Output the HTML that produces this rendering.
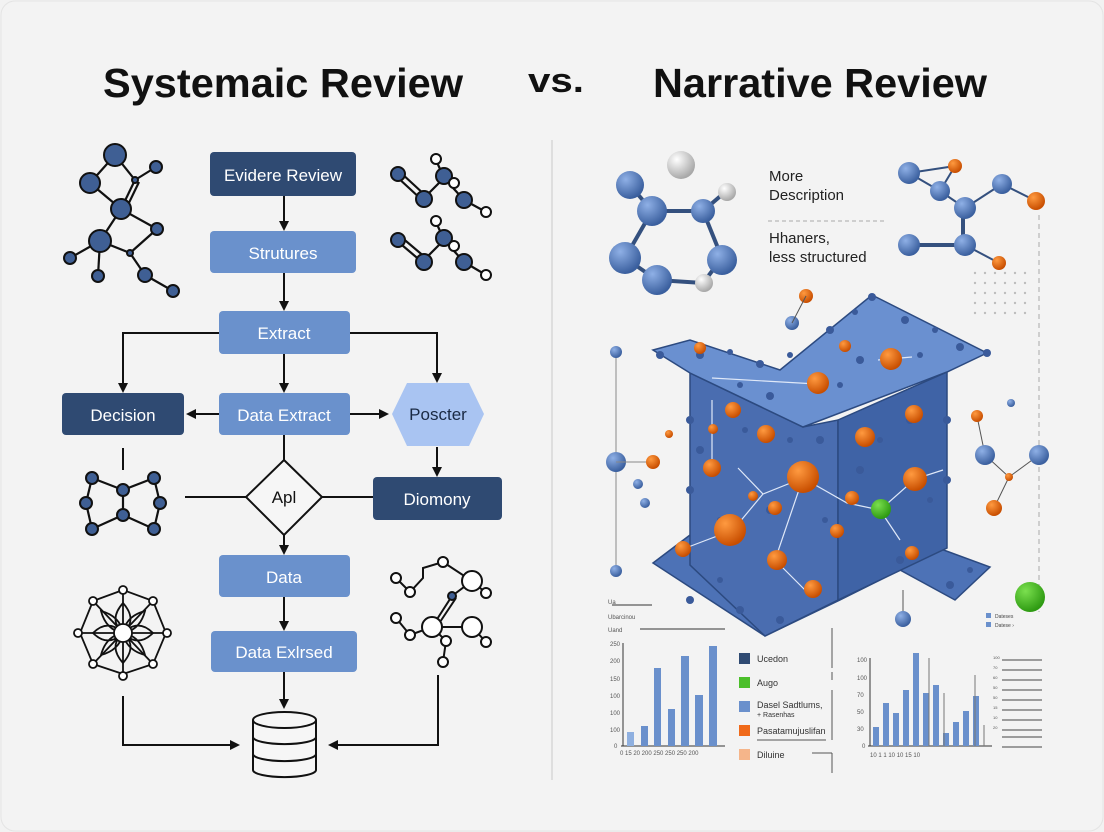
<!DOCTYPE html>
<html><head><meta charset="utf-8"><style>
html,body{margin:0;padding:0;background:#f2f2f2;}
svg{display:block;font-family:"Liberation Sans",sans-serif;}
</style></head><body>
<svg width="1104" height="832" viewBox="0 0 1104 832" xmlns="http://www.w3.org/2000/svg">
<defs>
<marker id="ar" markerWidth="10" markerHeight="10" refX="8" refY="5" orient="auto" markerUnits="userSpaceOnUse"><path d="M0,0 L10,5 L0,10 Z" fill="#111"/></marker>
<radialGradient id="bb" cx="35%" cy="30%" r="70%"><stop offset="0" stop-color="#8fb0e6"/><stop offset="1" stop-color="#3a5f9e"/></radialGradient>
<radialGradient id="ob" cx="35%" cy="30%" r="70%"><stop offset="0" stop-color="#ff9a40"/><stop offset="1" stop-color="#c84e00"/></radialGradient>
<radialGradient id="wb" cx="35%" cy="30%" r="70%"><stop offset="0" stop-color="#ffffff"/><stop offset="1" stop-color="#a8a8a8"/></radialGradient>
<radialGradient id="gb" cx="35%" cy="30%" r="70%"><stop offset="0" stop-color="#7be04f"/><stop offset="1" stop-color="#2e9a12"/></radialGradient>
</defs>
<rect x="0" y="0" width="1104" height="832" fill="#f2f2f2"/>
<rect x="1" y="1" width="1102" height="830" rx="14" fill="#f3f3f3" stroke="#e4e4e4"/>

<!-- Titles -->
<text x="103" y="97" font-size="41" font-weight="bold" fill="#111" textLength="360" lengthAdjust="spacingAndGlyphs">Systemaic Review</text>
<text x="528" y="92" font-size="34" font-weight="bold" fill="#111" textLength="56" lengthAdjust="spacingAndGlyphs">vs.</text>
<text x="653" y="97" font-size="41" font-weight="bold" fill="#111" textLength="334" lengthAdjust="spacingAndGlyphs">Narrative Review</text>
<line x1="552" y1="140" x2="552" y2="780" stroke="#d8d8d8" stroke-width="1.5"/>

<!-- Flowchart connectors -->
<g stroke="#111" stroke-width="2" fill="none">
<line x1="284" y1="196" x2="284" y2="229" marker-end="url(#ar)"/>
<line x1="284" y1="273" x2="284" y2="309" marker-end="url(#ar)"/>
<line x1="284" y1="354" x2="284" y2="391" marker-end="url(#ar)"/>
<polyline points="219,333 123,333 123,391" marker-end="url(#ar)"/>
<polyline points="350,333 437,333 437,381" marker-end="url(#ar)"/>
<line x1="219" y1="414" x2="188" y2="414" marker-end="url(#ar)"/>
<line x1="350" y1="414" x2="387" y2="414" marker-end="url(#ar)"/>
<line x1="284" y1="435" x2="284" y2="460"/>
<line x1="437" y1="447" x2="437" y2="475" marker-end="url(#ar)"/>
<line x1="123" y1="448" x2="123" y2="470"/>
<line x1="185" y1="497" x2="246" y2="497"/>
<line x1="322" y1="497" x2="373" y2="497"/>
<line x1="284" y1="535" x2="284" y2="553" marker-end="url(#ar)"/>
<line x1="284" y1="597" x2="284" y2="629" marker-end="url(#ar)"/>
<line x1="284" y1="672" x2="284" y2="707" marker-end="url(#ar)"/>
<polyline points="123,696 123,745 238,745" marker-end="url(#ar)"/>
<polyline points="438,675 438,745 330,745" marker-end="url(#ar)"/>
</g>

<!-- Flowchart nodes -->
<rect x="210" y="152" width="146" height="44" rx="4" fill="#2f4a72"/>
<text x="283" y="181" font-size="17" fill="#fff" text-anchor="middle">Evidere Review</text>
<rect x="210" y="231" width="146" height="42" rx="4" fill="#6a91cc"/>
<text x="283" y="259" font-size="17" fill="#fff" text-anchor="middle">Strutures</text>
<rect x="219" y="311" width="131" height="43" rx="4" fill="#6a91cc"/>
<text x="284" y="339" font-size="17" fill="#fff" text-anchor="middle">Extract</text>
<rect x="62" y="393" width="122" height="42" rx="4" fill="#2f4a72"/>
<text x="123" y="421" font-size="17" fill="#fff" text-anchor="middle">Decision</text>
<rect x="219" y="393" width="131" height="42" rx="4" fill="#6a91cc"/>
<text x="284" y="421" font-size="17" fill="#fff" text-anchor="middle">Data Extract</text>
<polygon points="392,414 407,383 469,383 484,414 469,446 407,446" fill="#a9c4f2"/>
<text x="438" y="420" font-size="17" fill="#1a2a44" text-anchor="middle">Poscter</text>
<polygon points="284,460 322,497 284,535 246,497" fill="#f6f6f6" stroke="#111" stroke-width="2"/>
<text x="284" y="503" font-size="17" fill="#111" text-anchor="middle">Apl</text>
<rect x="373" y="477" width="129" height="43" rx="4" fill="#2f4a72"/>
<text x="437" y="505" font-size="17" fill="#fff" text-anchor="middle">Diomony</text>
<rect x="219" y="555" width="131" height="42" rx="4" fill="#6a91cc"/>
<text x="284" y="583" font-size="17" fill="#fff" text-anchor="middle">Data</text>
<rect x="211" y="631" width="146" height="41" rx="4" fill="#6a91cc"/>
<text x="284" y="658" font-size="17" fill="#fff" text-anchor="middle">Data Exlrsed</text>
<!-- database -->
<g stroke="#111" stroke-width="2" fill="#f6f6f6">
<path d="M253,720 L253,770 A31,7 0 0 0 316,770 L316,720"/>
<ellipse cx="284.5" cy="720" rx="31.5" ry="8"/>
<path d="M253,737 A31,7 0 0 0 316,737" fill="none"/>
<path d="M253,754 A31,7 0 0 0 316,754" fill="none"/>
</g>

<!-- Molecule top-left -->
<g stroke="#111" stroke-width="2.2">
<line x1="115" y1="155" x2="90" y2="183"/><line x1="115" y1="155" x2="135" y2="180"/>
<line x1="135" y1="180" x2="156" y2="167"/><line x1="135" y1="180" x2="121" y2="209"/><line x1="139" y1="182" x2="125" y2="211"/>
<line x1="90" y1="183" x2="121" y2="209"/><line x1="121" y1="209" x2="157" y2="229"/>
<line x1="121" y1="209" x2="100" y2="241"/><line x1="100" y1="241" x2="130" y2="253"/>
<line x1="157" y1="229" x2="130" y2="253"/><line x1="100" y1="241" x2="70" y2="258"/>
<line x1="100" y1="241" x2="98" y2="276"/><line x1="130" y1="253" x2="145" y2="275"/><line x1="145" y1="275" x2="173" y2="291"/>
</g>
<g fill="#3f5f94" stroke="#111" stroke-width="2">
<circle cx="115" cy="155" r="11"/><circle cx="90" cy="183" r="10"/><circle cx="135" cy="180" r="3"/><circle cx="156" cy="167" r="6"/>
<circle cx="121" cy="209" r="10"/><circle cx="157" cy="229" r="6"/><circle cx="100" cy="241" r="11"/><circle cx="130" cy="253" r="3"/>
<circle cx="70" cy="258" r="6"/><circle cx="98" cy="276" r="6"/><circle cx="145" cy="275" r="7"/><circle cx="173" cy="291" r="6"/>
</g>

<!-- Molecules top-right (two) -->
<g stroke="#111" stroke-width="2.2" fill="none">
<path d="M396,176 L422,200 M400,172 L426,196 M422,200 L444,178 L464,200 L486,212 M444,178 L454,183 M444,178 L436,160"/>
<path d="M396,240 L422,262 M400,236 L426,258 M422,262 L444,240 L464,262 L486,275 M444,240 L454,246 M444,240 L436,222"/>
</g>
<g stroke="#111" stroke-width="2">
<circle cx="398" cy="174" r="7" fill="#3f5f94"/><circle cx="424" cy="199" r="8" fill="#3f5f94"/><circle cx="444" cy="176" r="8" fill="#3f5f94"/><circle cx="464" cy="200" r="8" fill="#3f5f94"/>
<circle cx="436" cy="159" r="5" fill="#fff"/><circle cx="454" cy="183" r="5" fill="#fff"/><circle cx="486" cy="212" r="5" fill="#fff"/>
<circle cx="398" cy="240" r="7" fill="#3f5f94"/><circle cx="424" cy="262" r="8" fill="#3f5f94"/><circle cx="444" cy="238" r="8" fill="#3f5f94"/><circle cx="464" cy="262" r="8" fill="#3f5f94"/>
<circle cx="436" cy="221" r="5" fill="#fff"/><circle cx="454" cy="246" r="5" fill="#fff"/><circle cx="486" cy="275" r="5" fill="#fff"/>
</g>

<!-- Molecule mid-left -->
<g stroke="#111" stroke-width="2.2" fill="none">
<path d="M92,478 L123,490 L154,478 M92,478 L86,503 L92,529 L123,515 L154,529 L160,503 L154,478 M123,490 L123,515"/>
</g>
<g fill="#3f5f94" stroke="#111" stroke-width="2">
<circle cx="92" cy="478" r="6"/><circle cx="123" cy="490" r="6"/><circle cx="154" cy="478" r="6"/><circle cx="86" cy="503" r="6"/><circle cx="160" cy="503" r="6"/><circle cx="92" cy="529" r="6"/><circle cx="123" cy="515" r="6"/><circle cx="154" cy="529" r="6"/>
</g>

<!-- Flower bottom-left -->
<g stroke="#111" stroke-width="1.8" fill="none">
<path d="M123,590 L123,674 M80,633 L166,633 M93,601 L153,664 M153,601 L93,664"/>
<path d="M123,603 Q108,620 123,633 Q138,620 123,603 Z M123,663 Q108,646 123,633 Q138,646 123,663 Z M93,633 Q108,618 123,633 Q108,648 93,633 Z M153,633 Q138,618 123,633 Q138,648 153,633 Z"/>
<path d="M101,611 Q120,616 123,633 Q106,630 101,611 Z M145,611 Q126,616 123,633 Q140,630 145,611 Z M101,655 Q120,650 123,633 Q106,636 101,655 Z M145,655 Q126,650 123,633 Q140,636 145,655 Z"/>
<path d="M93,601 L123,590 L153,601 L166,633 L153,664 L123,674 L93,664 L80,633 Z"/>
</g>
<g fill="#fff" stroke="#111" stroke-width="1.8">
<circle cx="123" cy="633" r="9"/><circle cx="123" cy="590" r="4"/><circle cx="123" cy="676" r="4"/><circle cx="78" cy="633" r="4"/><circle cx="167" cy="633" r="4"/>
<circle cx="93" cy="601" r="4"/><circle cx="153" cy="601" r="4"/><circle cx="93" cy="664" r="4"/><circle cx="153" cy="664" r="4"/>
</g>

<!-- Molecule bottom-right outlined -->
<g stroke="#111" stroke-width="2" fill="none">
<path d="M396,578 L410,592 L423,578 L423,568 L443,562 L472,581 L486,593 M472,581 L452,596 L432,627 M436,628 L456,598 M396,618 L410,635 L432,627 L472,627 L486,642 M432,627 L446,641 L443,662"/>
</g>
<g fill="#fff" stroke="#111" stroke-width="2">
<circle cx="396" cy="578" r="5"/><circle cx="410" cy="592" r="5"/><circle cx="443" cy="562" r="5"/><circle cx="472" cy="581" r="10"/><circle cx="486" cy="593" r="5"/>
<circle cx="452" cy="596" r="4" fill="#3f5f94"/><circle cx="396" cy="618" r="5"/><circle cx="410" cy="635" r="5"/><circle cx="432" cy="627" r="10"/><circle cx="472" cy="627" r="10"/><circle cx="486" cy="642" r="5"/><circle cx="446" cy="641" r="5"/><circle cx="443" cy="662" r="5"/>
</g>

<!-- Right side: molecule top-left 3D -->
<g stroke="#34507e" stroke-width="4">
<line x1="630" y1="185" x2="652" y2="211"/><line x1="652" y1="211" x2="703" y2="211"/><line x1="703" y1="211" x2="724" y2="193"/>
<line x1="652" y1="211" x2="625" y2="258"/><line x1="625" y1="258" x2="657" y2="280"/><line x1="657" y1="280" x2="703" y2="283"/>
<line x1="703" y1="211" x2="722" y2="258"/><line x1="722" y1="258" x2="703" y2="283"/>
</g>
<circle cx="681" cy="165" r="14" fill="url(#wb)"/>
<circle cx="630" cy="185" r="14" fill="url(#bb)"/><circle cx="652" cy="211" r="15" fill="url(#bb)"/><circle cx="703" cy="211" r="12" fill="url(#bb)"/>
<circle cx="727" cy="192" r="9" fill="url(#wb)"/><circle cx="625" cy="258" r="16" fill="url(#bb)"/><circle cx="657" cy="280" r="15" fill="url(#bb)"/>
<circle cx="722" cy="260" r="15" fill="url(#bb)"/><circle cx="704" cy="283" r="9" fill="url(#wb)"/>

<text x="769" y="181" font-size="15" fill="#222">More</text>
<text x="769" y="200" font-size="15" fill="#222">Description</text>
<line x1="768" y1="221" x2="884" y2="221" stroke="#aaa" stroke-dasharray="4,3"/>
<text x="769" y="243" font-size="15" fill="#222">Hhaners,</text>
<text x="769" y="262" font-size="15" fill="#222">less structured</text>

<!-- molecule top-right -->
<g stroke="#34507e" stroke-width="2">
<line x1="909" y1="173" x2="955" y2="166"/><line x1="909" y1="173" x2="940" y2="191"/><line x1="955" y1="166" x2="940" y2="191"/>
<line x1="940" y1="191" x2="965" y2="208"/><line x1="965" y1="208" x2="1002" y2="184"/><line x1="1002" y1="184" x2="1036" y2="201"/>
<line x1="963" y1="208" x2="963" y2="244" stroke-width="4"/><line x1="909" y1="245" x2="965" y2="245" stroke-width="4"/><line x1="965" y1="245" x2="999" y2="263"/>
</g>
<line x1="1039" y1="215" x2="1039" y2="612" stroke="#aaa" stroke-dasharray="5,4"/>
<circle cx="909" cy="173" r="11" fill="url(#bb)"/><circle cx="955" cy="166" r="7" fill="url(#ob)"/><circle cx="940" cy="191" r="10" fill="url(#bb)"/>
<circle cx="965" cy="208" r="11" fill="url(#bb)"/><circle cx="1002" cy="184" r="10" fill="url(#bb)"/><circle cx="1036" cy="201" r="9" fill="url(#ob)"/>
<circle cx="909" cy="245" r="11" fill="url(#bb)"/><circle cx="965" cy="245" r="11" fill="url(#bb)"/><circle cx="999" cy="263" r="7" fill="url(#ob)"/>
<g fill="#c8c8c8">
<rect x="975" y="256" width="70" height="60" fill="none"/>
</g>
<g fill="#bdbdbd">
<circle cx="975" cy="273" r="1.2"/><circle cx="985" cy="273" r="1.2"/><circle cx="995" cy="273" r="1.2"/><circle cx="1005" cy="273" r="1.2"/><circle cx="1015" cy="273" r="1.2"/><circle cx="1025" cy="273" r="1.2"/>
<circle cx="975" cy="283" r="1.2"/><circle cx="985" cy="283" r="1.2"/><circle cx="995" cy="283" r="1.2"/><circle cx="1005" cy="283" r="1.2"/><circle cx="1015" cy="283" r="1.2"/><circle cx="1025" cy="283" r="1.2"/>
<circle cx="975" cy="293" r="1.2"/><circle cx="985" cy="293" r="1.2"/><circle cx="995" cy="293" r="1.2"/><circle cx="1005" cy="293" r="1.2"/><circle cx="1015" cy="293" r="1.2"/><circle cx="1025" cy="293" r="1.2"/>
<circle cx="975" cy="303" r="1.2"/><circle cx="985" cy="303" r="1.2"/><circle cx="995" cy="303" r="1.2"/><circle cx="1005" cy="303" r="1.2"/><circle cx="1015" cy="303" r="1.2"/><circle cx="1025" cy="303" r="1.2"/>
<circle cx="975" cy="313" r="1.2"/><circle cx="985" cy="313" r="1.2"/><circle cx="995" cy="313" r="1.2"/><circle cx="1005" cy="313" r="1.2"/><circle cx="1015" cy="313" r="1.2"/><circle cx="1025" cy="313" r="1.2"/>
</g>

<!-- Big 3D shape -->
<polygon points="653,563 690,535 765,565 840,525 930,545 990,567 955,600 900,570 840,600 765,636" fill="#4d72b6" stroke="#2c4a80" stroke-width="1.5"/>
<polygon points="690,373 803,427 838,420 838,600 765,636 690,565" fill="#4a6db0" stroke="#2c4a80" stroke-width="1.5"/>
<polygon points="838,420 947,372 947,548 838,600" fill="#3f63a6" stroke="#2c4a80" stroke-width="1.5"/>
<polygon points="653,350 690,340 780,370 872,295 987,353 947,372 803,427 690,373" fill="#6a90d0" stroke="#2c4a80" stroke-width="1.5"/>
<g stroke="#dfe8f8" stroke-width="1.2" fill="none">
<path d="M712,378 L817,384 M878,360 L912,357 M738,468 L763,494 L803,478 L775,560 L805,590 M763,494 L733,530 L683,549 M803,478 L847,503 L880,510 L915,479 L943,470 M880,510 L900,540 M712,468 L712,400"/>
</g>
<g fill="#3a5a9a">
<circle cx="700" cy="355" r="4"/><circle cx="730" cy="352" r="3"/><circle cx="760" cy="364" r="4"/><circle cx="790" cy="355" r="3"/><circle cx="830" cy="330" r="4"/><circle cx="855" cy="312" r="3"/><circle cx="905" cy="320" r="4"/><circle cx="935" cy="330" r="3"/><circle cx="960" cy="347" r="4"/>
<circle cx="740" cy="385" r="3"/><circle cx="770" cy="396" r="4"/><circle cx="840" cy="385" r="3"/><circle cx="860" cy="360" r="4"/><circle cx="920" cy="355" r="3"/>
<circle cx="700" cy="450" r="4"/><circle cx="720" cy="520" r="3"/><circle cx="745" cy="430" r="3"/><circle cx="770" cy="510" r="4"/><circle cx="790" cy="440" r="3"/>
<circle cx="820" cy="440" r="4"/><circle cx="825" cy="520" r="3"/><circle cx="860" cy="470" r="4"/><circle cx="880" cy="440" r="3"/><circle cx="910" cy="420" r="4"/><circle cx="930" cy="500" r="3"/><circle cx="900" cy="560" r="4"/>
<circle cx="690" cy="600" r="4"/><circle cx="720" cy="580" r="3"/><circle cx="740" cy="610" r="4"/><circle cx="780" cy="620" r="4"/><circle cx="950" cy="585" r="4"/><circle cx="970" cy="570" r="3"/>
<circle cx="660" cy="355" r="4"/><circle cx="872" cy="297" r="4"/><circle cx="987" cy="353" r="4"/><circle cx="690" cy="420" r="4"/><circle cx="690" cy="490" r="4"/><circle cx="947" cy="420" r="4"/><circle cx="947" cy="480" r="4"/>
</g>
<circle cx="700" cy="348" r="6" fill="url(#ob)"/><circle cx="845" cy="346" r="6" fill="url(#ob)"/><circle cx="891" cy="359" r="11" fill="url(#ob)"/>
<circle cx="818" cy="383" r="11" fill="url(#ob)"/><circle cx="733" cy="410" r="8" fill="url(#ob)"/><circle cx="713" cy="429" r="5" fill="url(#ob)"/>
<circle cx="766" cy="434" r="9" fill="url(#ob)"/><circle cx="914" cy="414" r="9" fill="url(#ob)"/><circle cx="865" cy="437" r="10" fill="url(#ob)"/>
<circle cx="712" cy="468" r="9" fill="url(#ob)"/><circle cx="803" cy="477" r="16" fill="url(#ob)"/><circle cx="915" cy="479" r="12" fill="url(#ob)"/>
<circle cx="753" cy="496" r="5" fill="url(#ob)"/><circle cx="775" cy="508" r="7" fill="url(#ob)"/><circle cx="852" cy="498" r="7" fill="url(#ob)"/>
<circle cx="881" cy="509" r="10" fill="url(#gb)"/><circle cx="730" cy="530" r="16" fill="url(#ob)"/><circle cx="683" cy="549" r="8" fill="url(#ob)"/>
<circle cx="777" cy="560" r="10" fill="url(#ob)"/><circle cx="837" cy="531" r="7" fill="url(#ob)"/><circle cx="912" cy="553" r="7" fill="url(#ob)"/><circle cx="813" cy="589" r="9" fill="url(#ob)"/>
<circle cx="806" cy="296" r="7" fill="url(#ob)"/><circle cx="792" cy="323" r="7" fill="url(#bb)"/><line x1="806" y1="296" x2="792" y2="323" stroke="#555"/>
<!-- left side line/balls -->
<line x1="616" y1="352" x2="616" y2="570" stroke="#888"/>
<circle cx="616" cy="352" r="6" fill="url(#bb)"/><circle cx="616" cy="462" r="10" fill="url(#bb)"/><circle cx="616" cy="571" r="6" fill="url(#bb)"/>
<line x1="616" y1="462" x2="653" y2="462" stroke="#888"/><circle cx="653" cy="462" r="7" fill="url(#ob)"/><circle cx="669" cy="434" r="4" fill="url(#ob)"/>
<circle cx="638" cy="484" r="5" fill="url(#bb)"/><circle cx="645" cy="503" r="5" fill="url(#bb)"/>
<!-- right small molecule -->
<g stroke="#555"><line x1="977" y1="416" x2="985" y2="455"/><line x1="985" y1="455" x2="1009" y2="477"/><line x1="1009" y1="477" x2="1039" y2="455"/><line x1="1009" y1="477" x2="994" y2="508"/></g>
<circle cx="977" cy="416" r="6" fill="url(#ob)"/><circle cx="985" cy="455" r="10" fill="url(#bb)"/><circle cx="1039" cy="455" r="10" fill="url(#bb)"/>
<circle cx="1009" cy="477" r="4" fill="url(#ob)"/><circle cx="994" cy="508" r="8" fill="url(#ob)"/><circle cx="1011" cy="403" r="4" fill="url(#bb)"/>
<circle cx="1030" cy="597" r="15" fill="url(#gb)"/>
<line x1="903" y1="590" x2="903" y2="612" stroke="#555"/><circle cx="903" cy="619" r="8" fill="url(#bb)"/>

<!-- Left bar chart -->
<g stroke="#333" stroke-width="1"><line x1="612" y1="605" x2="652" y2="605"/><line x1="640" y1="629" x2="725" y2="629"/><line x1="623" y1="643" x2="623" y2="746"/><line x1="621" y1="746" x2="725" y2="746"/></g>
<g font-size="6" fill="#555"><text x="608" y="604">Ua</text><text x="608" y="619">Ubarcinou</text><text x="608" y="632">Uand</text>
<text x="610" y="646">250</text><text x="610" y="663">200</text><text x="610" y="681">150</text><text x="610" y="698">100</text><text x="610" y="715">100</text><text x="610" y="732">100</text><text x="614" y="748">0</text>
<text x="620" y="755">0 15 20 200 250 250 250 200</text></g>
<g fill="#6a90cc"><rect x="627" y="732" width="7" height="14" fill="#8fb0e0"/><rect x="641" y="726" width="7" height="20"/><rect x="654" y="668" width="7" height="78"/><rect x="668" y="709" width="7" height="37"/><rect x="681" y="656" width="8" height="90"/><rect x="695" y="695" width="8" height="51"/><rect x="709" y="646" width="8" height="100"/></g>
<rect x="739" y="653" width="11" height="11" fill="#2f4a72"/><text x="757" y="662" font-size="9" fill="#333">Ucedon</text>
<rect x="739" y="677" width="11" height="11" fill="#4bbf2a"/><text x="757" y="686" font-size="9" fill="#333">Augo</text>
<rect x="739" y="701" width="11" height="11" fill="#6a90cc"/><text x="757" y="708" font-size="9" fill="#333">Dasel Sadtlums,</text><text x="757" y="717" font-size="7" fill="#333">+ Rasenhas</text>
<rect x="739" y="725" width="11" height="11" fill="#f06a1a"/><text x="757" y="734" font-size="9" fill="#333">Pasatamujuslifan</text>
<rect x="739" y="749" width="11" height="11" fill="#f5b58a"/><text x="757" y="758" font-size="9" fill="#333">Diluine</text>
<g stroke="#555"><line x1="832" y1="628" x2="832" y2="668"/><line x1="832" y1="672" x2="832" y2="680"/><line x1="832" y1="690" x2="832" y2="740"/><line x1="812" y1="753" x2="832" y2="753"/><line x1="832" y1="753" x2="832" y2="773"/><line x1="757" y1="740" x2="826" y2="740"/></g>

<!-- Right bar chart -->
<g stroke="#333" stroke-width="1"><line x1="870" y1="658" x2="870" y2="746"/><line x1="868" y1="746" x2="992" y2="746"/></g>
<g font-size="6" fill="#555"><text x="857" y="662">100</text><text x="857" y="680">100</text><text x="857" y="697">70</text><text x="857" y="714">50</text><text x="857" y="731">30</text><text x="862" y="748">0</text>
<text x="870" y="757">10   1    1    10   10   15   10</text></g>
<g fill="#6a90cc"><rect x="873" y="727" width="6" height="19"/><rect x="883" y="703" width="6" height="43"/><rect x="893" y="713" width="6" height="33"/><rect x="903" y="690" width="6" height="56"/><rect x="913" y="653" width="6" height="93"/><rect x="923" y="693" width="6" height="53"/><rect x="933" y="685" width="6" height="61"/><rect x="943" y="733" width="6" height="13"/><rect x="953" y="722" width="6" height="24"/><rect x="963" y="711" width="6" height="35"/><rect x="973" y="696" width="6" height="50"/></g>
<g stroke="#777"><line x1="929" y1="658" x2="929" y2="746"/><line x1="944" y1="693" x2="944" y2="746"/><line x1="975" y1="675" x2="975" y2="746"/><line x1="984" y1="725" x2="984" y2="746"/></g>
<g stroke="#444"><line x1="1002" y1="660" x2="1042" y2="660"/><line x1="1002" y1="670" x2="1042" y2="670"/><line x1="1002" y1="680" x2="1042" y2="680"/><line x1="1002" y1="690" x2="1042" y2="690"/><line x1="1002" y1="700" x2="1042" y2="700"/><line x1="1002" y1="710" x2="1042" y2="710"/><line x1="1002" y1="720" x2="1042" y2="720"/><line x1="1002" y1="730" x2="1042" y2="730"/><line x1="1002" y1="737" x2="1042" y2="737"/><line x1="1002" y1="747" x2="1042" y2="747"/></g>
<g font-size="4" fill="#555"><text x="993" y="659">100</text><text x="993" y="669">70</text><text x="993" y="679">60</text><text x="993" y="689">50</text><text x="993" y="699">50</text><text x="993" y="709">15</text><text x="993" y="719">10</text><text x="993" y="729">20</text></g>
<rect x="986" y="613" width="5" height="5" fill="#6a90cc"/><text x="995" y="618" font-size="5" fill="#444">Dateses</text>
<rect x="986" y="622" width="5" height="5" fill="#6a90cc"/><text x="995" y="627" font-size="5" fill="#444">Datese ›</text>
</svg>
</body></html>
